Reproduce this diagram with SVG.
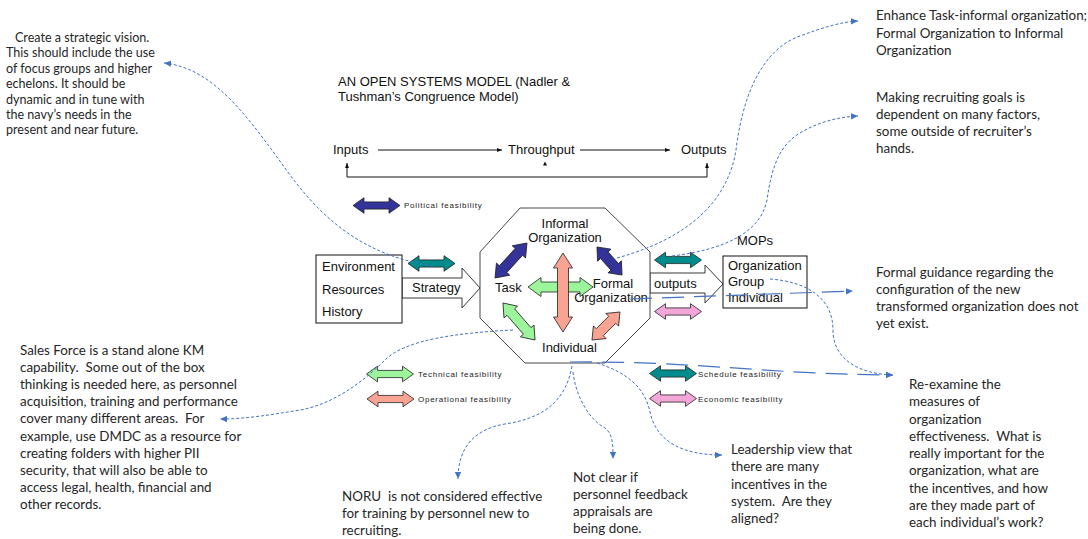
<svg xmlns="http://www.w3.org/2000/svg" width="1088" height="539" viewBox="0 0 1088 539">
<style>
  .lbl{font-family:"Liberation Sans",Arial,sans-serif;font-size:13px;fill:#111}
  .mid{text-anchor:middle}
  .feas{font-family:"Liberation Sans",Arial,sans-serif;font-size:8px;letter-spacing:0.75px;fill:#222}
  .note{font-family:Lato,"Liberation Sans",sans-serif;font-size:13.4px;fill:#262626}
  .note-s{font-size:12.55px}
  .edge{fill:none;stroke:#4472C4;stroke-width:1;stroke-dasharray:3 2;marker-end:url(#blue-tip)}
  .edge-long{fill:none;stroke:#4472C4;stroke-width:1.2;stroke-dasharray:22 10;marker-end:url(#blue-tip)}
  .flow{fill:none;stroke:#111;stroke-width:1}
  .dbl{stroke:#222;stroke-width:0.8;stroke-linejoin:miter}
  .navy{fill:#333399}
  .green{fill:#9CF59A}
  .salmon{fill:#F9A392}
  .teal{fill:#008C8C}
  .pink{fill:#F2A7D8}
  .box{fill:#fff;stroke:#111;stroke-width:1}
  .hollow{fill:#fff;stroke:#222;stroke-width:0.9}
</style>
<defs>
  <marker id="blue-tip" viewBox="0 0 10 10" refX="10" refY="5" markerWidth="7" markerHeight="7" markerUnits="userSpaceOnUse" orient="auto">
    <path d="M0,0.5 L10,5 L0,9.5 z" fill="#4472C4"/>
  </marker>
  <marker id="black-tip" viewBox="0 0 10 10" refX="10" refY="5" markerWidth="5" markerHeight="5" markerUnits="userSpaceOnUse" orient="auto-start-reverse">
    <path d="M0,1 L10,5 L0,9 z" fill="#111"/>
  </marker>
  <!-- small double-headed block arrow, centred on the origin -->
  <polygon id="dbl-sm" points="-23.5,0 -12.5,-7.8 -12.5,-3.6 12.5,-3.6 12.5,-7.8 23.5,0 12.5,7.8 12.5,3.6 -12.5,3.6 -12.5,7.8"/>
</defs>

<!-- title -->
<g id="title">
  <text class="lbl" x="338" y="85.5">AN OPEN SYSTEMS MODEL (Nadler &amp;</text>
  <text class="lbl" x="338" y="100.5">Tushman’s Congruence Model)</text>
</g>

<!-- inputs / throughput / outputs loop -->
<g id="systems-loop">
  <text class="lbl" x="333" y="154">Inputs</text>
  <text class="lbl" x="508" y="154">Throughput</text>
  <text class="lbl" x="681" y="154">Outputs</text>
  <line class="flow" x1="378" y1="150" x2="502" y2="150" marker-end="url(#black-tip)"/>
  <line class="flow" x1="580" y1="150" x2="670" y2="150" marker-end="url(#black-tip)"/>
  <polyline class="flow" points="707,163 707,177 347,177 347,163" marker-start="url(#black-tip)" marker-end="url(#black-tip)"/>
  <polygon points="543,165.5 545,161.5 547,165.5" fill="#111"/>
</g>

<!-- strategy input arrow -->
<g id="strategy">
  <polygon class="hollow" points="402,278 462,278 462,268 480,288 462,308 462,298 402,298"/>
  <text class="lbl" x="412" y="292">Strategy</text>
</g>

<!-- inputs box -->
<g id="inputs-box">
  <rect class="box" x="316" y="255" width="86" height="68"/>
  <text class="lbl" x="322" y="271">Environment</text>
  <text class="lbl" x="322" y="293.5">Resources</text>
  <text class="lbl" x="322" y="316">History</text>
</g>

<!-- outputs arrow -->
<g id="outputs">
  <polygon class="hollow" points="650,273 705,273 705,265 723,284 705,303 705,293 650,293"/>
  <text class="lbl" x="654" y="287.5">outputs</text>
</g>

<!-- organization box -->
<g id="org-box">
  <rect class="box" x="723" y="256" width="84" height="52"/>
  <text class="lbl" x="728" y="270">Organization</text>
  <text class="lbl" x="728" y="286">Group</text>
  <text class="lbl" x="728" y="302">Individual</text>
</g>

<g id="mops">
  <text class="lbl" x="737" y="245">MOPs</text>
</g>

<!-- congruence octagon -->
<g id="octagon">
  <polygon points="520,208 605,208 650,252 650,318 605,363 525,363 480,318 480,252" fill="#fff" stroke="#333" stroke-width="0.9"/>
  <text class="lbl mid" x="565" y="228">Informal</text>
  <text class="lbl mid" x="565" y="242">Organization</text>
  <text class="lbl" x="495" y="292">Task</text>
  <text class="lbl mid" x="613" y="288">Formal</text>
  <text class="lbl mid" x="611" y="302">Organization</text>
  <text class="lbl mid" x="569.5" y="352">Individual</text>

  <polygon class="dbl navy" transform="translate(511,260.5) rotate(-47.6)" points="-23.7,0 -11.7,-9 -11.7,-5 11.7,-5 11.7,-9 23.7,0 11.7,9 11.7,5 -11.7,5 -11.7,9"/>
  <polygon class="dbl navy" transform="translate(609.5,261) rotate(48.2)" points="-18.8,0 -7.8,-9 -7.8,-5 7.8,-5 7.8,-9 18.8,0 7.8,9 7.8,5 -7.8,5 -7.8,9"/>
  <polygon class="dbl green" transform="translate(560.5,287)" points="-32.5,0 -19.5,-9.5 -19.5,-5 19.5,-5 19.5,-9.5 32.5,0 19.5,9.5 19.5,5 -19.5,5 -19.5,9.5"/>
  <polygon class="dbl salmon" transform="translate(563,292.5) rotate(90)" points="-39.5,0 -24.5,-9.5 -24.5,-5.5 24.5,-5.5 24.5,-9.5 39.5,0 24.5,9.5 24.5,5.5 -24.5,5.5 -24.5,9.5"/>
  <polygon class="dbl green" transform="translate(519,321.5) rotate(49.1)" points="-24.5,0 -12.5,-9 -12.5,-5 12.5,-5 12.5,-9 24.5,0 12.5,9 12.5,5 -12.5,5 -12.5,9"/>
  <polygon class="dbl salmon" transform="translate(606,326) rotate(-45)" points="-19.8,0 -8.8,-9 -8.8,-5 8.8,-5 8.8,-9 19.8,0 8.8,9 8.8,5 -8.8,5 -8.8,9"/>
</g>

<!-- feasibility legend and side arrows -->
<g id="political-feasibility">
  <use href="#dbl-sm" class="dbl navy" transform="translate(376.5,205.5)"/>
  <text class="feas" x="404" y="208">Political feasibility</text>
</g>
<g id="technical-feasibility">
  <use href="#dbl-sm" class="dbl green" transform="translate(390,374)"/>
  <text class="feas" x="418" y="376.5">Technical feasibility</text>
</g>
<g id="operational-feasibility">
  <use href="#dbl-sm" class="dbl salmon" transform="translate(390.5,399)"/>
  <text class="feas" x="418" y="401.5">Operational feasibility</text>
</g>
<g id="schedule-feasibility">
  <use href="#dbl-sm" class="dbl teal" transform="translate(673,373.5)"/>
  <text class="feas" x="698" y="377">Schedule feasibility</text>
</g>
<g id="economic-feasibility">
  <use href="#dbl-sm" class="dbl pink" transform="translate(673,398.5)"/>
  <text class="feas" x="698" y="402">Economic feasibility</text>
</g>
<g id="side-arrows">
  <use href="#dbl-sm" class="dbl teal" transform="translate(431.5,263.5)"/>
  <use href="#dbl-sm" class="dbl teal" transform="translate(678,260)"/>
  <use href="#dbl-sm" class="dbl pink" transform="translate(678,311.5)"/>
</g>

<!-- notes -->
<g id="note-vision" class="note note-s">
  <text x="15" y="41.7">Create a strategic vision.</text>
  <text x="6" y="57.2">This should include the use</text>
  <text x="6" y="72.6">of focus groups and higher</text>
  <text x="6" y="88.1">echelons. It should be</text>
  <text x="6" y="103.5">dynamic and in tune with</text>
  <text x="6" y="119">the navy’s needs in the</text>
  <text x="6" y="134.4">present and near future.</text>
</g>
<g id="note-enhance" class="note">
  <text x="876" y="20">Enhance Task-informal organization;</text>
  <text x="876" y="37.5">Formal Organization to Informal</text>
  <text x="876" y="55">Organization</text>
</g>
<g id="note-recruiting" class="note">
  <text x="876" y="101.7">Making recruiting goals is</text>
  <text x="876" y="118.9">dependent on many factors,</text>
  <text x="876" y="136.1">some outside of recruiter’s</text>
  <text x="876" y="153.3">hands.</text>
</g>
<g id="note-guidance" class="note">
  <text x="876" y="277">Formal guidance regarding the</text>
  <text x="876" y="294">configuration of the new</text>
  <text x="876" y="311">transformed organization does not</text>
  <text x="876" y="328">yet exist.</text>
</g>
<g id="note-measures" class="note">
  <text x="909" y="389">Re-examine the</text>
  <text x="909" y="406.3">measures of</text>
  <text x="909" y="423.5">organization</text>
  <text x="909" y="440.8">effectiveness. &#160;What is</text>
  <text x="909" y="458">really important for the</text>
  <text x="909" y="475.3">organization, what are</text>
  <text x="909" y="492.5">the incentives, and how</text>
  <text x="909" y="509.8">are they made part of</text>
  <text x="909" y="527">each individual’s work?</text>
</g>
<g id="note-leadership" class="note">
  <text x="731" y="454">Leadership view that</text>
  <text x="731" y="471">there are many</text>
  <text x="731" y="488.5">incentives in the</text>
  <text x="731" y="506">system. &#160;Are they</text>
  <text x="731" y="523">aligned?</text>
</g>
<g id="note-appraisals" class="note">
  <text x="573" y="482">Not clear if</text>
  <text x="573" y="499">personnel feedback</text>
  <text x="573" y="516">appraisals are</text>
  <text x="573" y="533">being done.</text>
</g>
<g id="note-noru" class="note">
  <text x="342" y="500.5">NORU &#160;is not considered effective</text>
  <text x="342" y="517.7">for training by personnel new to</text>
  <text x="342" y="535">recruiting.</text>
</g>
<g id="note-salesforce" class="note">
  <text x="20" y="355">Sales Force is a stand alone KM</text>
  <text x="20" y="372.1">capability. &#160;Some out of the box</text>
  <text x="20" y="389.2">thinking is needed here, as personnel</text>
  <text x="20" y="406.3">acquisition, training and performance</text>
  <text x="20" y="423.4">cover many different areas. &#160;For</text>
  <text x="20" y="440.5">example, use DMDC as a resource for</text>
  <text x="20" y="457.6">creating folders with higher PII</text>
  <text x="20" y="474.7">security, that will also be able to</text>
  <text x="20" y="491.8">access legal, health, financial and</text>
  <text x="20" y="509">other records.</text>
</g>

<!-- connectors -->
<g id="connectors">
  <path class="edge" d="M433,266 C360,255 320,215 290,175 C250,120 215,68 164,63"/>
  <path class="edge" d="M617,258 C690,238 728,200 736,150 C742,100 760,50 800,36 C822,28 840,22 858,21"/>
  <path class="edge" d="M672,256 C720,250 760,235 767,200 C772,165 780,145 800,133 C820,121 840,117 858,116"/>
  <path class="edge" d="M513,330 C455,333 405,340 385,360 C360,385 330,405 300,410 C270,415 245,419 220,419"/>
  <path class="edge-long" d="M630,299 L853,291"/>
  <path class="edge" d="M770,279 C810,282 833,300 833,330 C833,360 860,374 893,375"/>
  <path class="edge-long" d="M570,362 C700,361 760,374 893,375"/>
  <path class="edge" d="M572,366 C566,400 545,418 505,424 C470,430 458,452 458,479"/>
  <path class="edge" d="M573,372 C576,398 590,420 605,428 C613,434 613,445 613,459"/>
  <path class="edge" d="M597,363 C628,373 645,388 650,412 C656,440 680,455 722,455"/>
</g>
</svg>
